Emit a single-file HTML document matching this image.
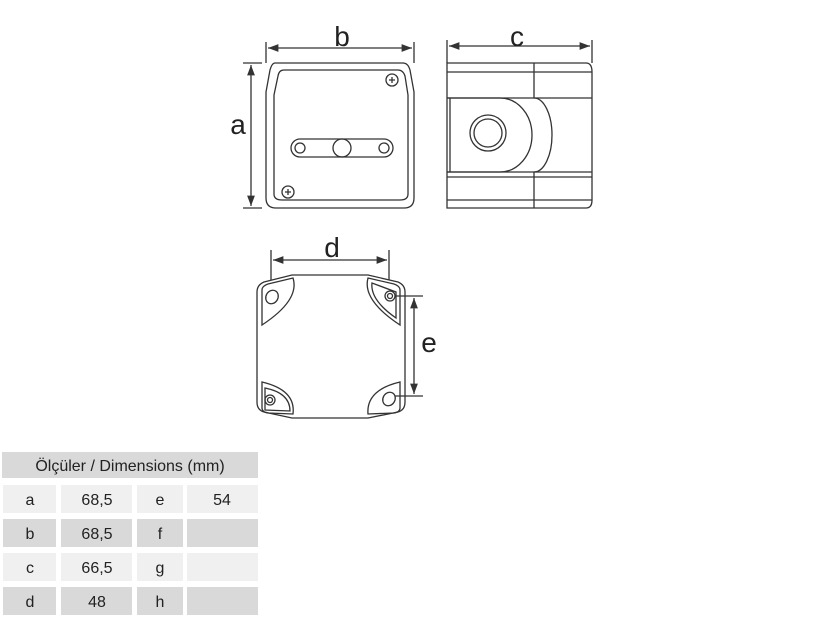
<!DOCTYPE html>
<html><head><meta charset="utf-8"><style>
body{margin:0;background:#fff;width:825px;height:625px;overflow:hidden;font-family:"Liberation Sans",sans-serif}
</style></head><body>
<svg width="825" height="625" style="position:absolute;left:0;top:0" fill="none" stroke="#333" stroke-width="1.3">
<defs><marker id="ar" markerWidth="8" markerHeight="6" refX="8" refY="3" orient="auto-start-reverse"><path d="M0,0 L8,3 L0,6 z" fill="#333" stroke="none"/></marker></defs>
<!-- front view -->
<path d="M275,63 L403,63 Q408,63 410,70 L414,92 L414,198 Q414,208 404,208 L276,208 Q266,208 266,198 L266,92 L270,70 Q272,63 275,63 Z"/>
<path d="M284,70 L398,70 Q403,70 405,76 L408,95 L408,194 Q408,200 400,200 L282,200 Q274,200 274,194 L274,95 L278,76 Q279,70 284,70 Z"/>
<circle cx="392" cy="80" r="6"/><path d="M389,80h6M392,77v6"/>
<circle cx="288" cy="192" r="6"/><path d="M285,192h6M288,189v6"/>
<rect x="291" y="139" width="102" height="18" rx="9"/>
<circle cx="300" cy="148" r="5"/><circle cx="384" cy="148" r="5"/><circle cx="342" cy="148" r="9"/>
<line x1="268" y1="48" x2="412" y2="48" marker-start="url(#ar)" marker-end="url(#ar)"/>
<path d="M266,42v21M414,42v21"/>
<line x1="251" y1="65" x2="251" y2="206" marker-start="url(#ar)" marker-end="url(#ar)"/>
<path d="M243,63h19M243,208h19"/>
<!-- side view -->
<path d="M447,63 L586,63 Q592,63 592,72 L592,200 Q592,208 586,208 L447,208 Z"/>
<path d="M534,63v35M534,172v36M447,72h145M447,98h53M534,98h58M447,172h53M534,172h58M447,177h145M447,200h145M450,98v74"/>
<path d="M447,98 L500,98 A32,37 0 0 1 500,172 L447,172"/>
<path d="M500,98 L534,98 A18,37 0 0 1 534,172 L500,172"/>
<circle cx="488" cy="133" r="18"/><circle cx="488" cy="133" r="14"/>
<line x1="449" y1="46" x2="590" y2="46" marker-start="url(#ar)" marker-end="url(#ar)"/>
<path d="M447,40v23M592,40v23"/>
<!-- bottom view -->
<path d="M292,275 L368,275 L398,282 Q405,285 405,292 L405,402 Q405,410 398,412 L368,418 L292,418 L264,412 Q257,410 257,402 L257,292 Q257,285 264,282 Z"/>
<path d="M262,325 L262,290 Q262,286 268,284 L293,278 Q300,300 262,325 Z"/>
<ellipse cx="272" cy="297" rx="6" ry="7" transform="rotate(30 272 297)"/>
<path d="M400,325 L400,290 Q400,286 394,284 L368,278 Q362,300 400,325 Z"/>
<path d="M396,318 L396,292 L372,283 Q370,300 396,318 Z"/>
<circle cx="390" cy="296" r="5"/><circle cx="390" cy="296" r="2.5"/>
<path d="M262,382 L262,408 Q262,412 268,413 L293,414 Q296,390 262,382 Z"/>
<path d="M265,388 L265,410 L290,411 Q290,393 265,388 Z"/>
<circle cx="270" cy="400" r="5"/><circle cx="270" cy="400" r="2.5"/>
<path d="M400,382 L400,408 Q400,412 394,413 L368,414 Q366,390 400,382 Z"/>
<ellipse cx="389" cy="399" rx="6" ry="7" transform="rotate(30 389 399)"/>
<line x1="273" y1="260" x2="387" y2="260" marker-start="url(#ar)" marker-end="url(#ar)"/>
<path d="M271,250v30M389,250v30"/>
<line x1="414" y1="298" x2="414" y2="394" marker-start="url(#ar)" marker-end="url(#ar)"/>
<path d="M395,296h28M395,396h28"/>
<!-- table -->
<g stroke="none">
<rect x="2" y="452" width="256" height="26" fill="#d9d9d9"/>
<rect x="3" y="485" width="53" height="28" fill="#f0f0f0"/><rect x="61" y="485" width="71" height="28" fill="#f0f0f0"/><rect x="137" y="485" width="46" height="28" fill="#f0f0f0"/><rect x="187" y="485" width="71" height="28" fill="#f0f0f0"/>
<rect x="3" y="519" width="53" height="28" fill="#d9d9d9"/><rect x="61" y="519" width="71" height="28" fill="#d9d9d9"/><rect x="137" y="519" width="46" height="28" fill="#d9d9d9"/><rect x="187" y="519" width="71" height="28" fill="#d9d9d9"/>
<rect x="3" y="553" width="53" height="28" fill="#f0f0f0"/><rect x="61" y="553" width="71" height="28" fill="#f0f0f0"/><rect x="137" y="553" width="46" height="28" fill="#f0f0f0"/><rect x="187" y="553" width="71" height="28" fill="#f0f0f0"/>
<rect x="3" y="587" width="53" height="28" fill="#d9d9d9"/><rect x="61" y="587" width="71" height="28" fill="#d9d9d9"/><rect x="137" y="587" width="46" height="28" fill="#d9d9d9"/><rect x="187" y="587" width="71" height="28" fill="#d9d9d9"/>
</g>
<g fill="#222" stroke="none" font-family="Liberation Sans, sans-serif" font-size="28" text-anchor="middle">
<text x="342" y="46">b</text><text x="238" y="134">a</text><text x="517" y="46">c</text><text x="332" y="257">d</text><text x="429" y="352">e</text>
</g>
<g fill="#222" stroke="none" font-family="Liberation Sans, sans-serif" font-size="16" text-anchor="middle">
<text x="130" y="471">Ölçüler / Dimensions (mm)</text>
<text x="30" y="505">a</text><text x="97" y="505">68,5</text><text x="160" y="505">e</text><text x="222" y="505">54</text>
<text x="30" y="539">b</text><text x="97" y="539">68,5</text><text x="160" y="539">f</text>
<text x="30" y="573">c</text><text x="97" y="573">66,5</text><text x="160" y="573">g</text>
<text x="30" y="607">d</text><text x="97" y="607">48</text><text x="160" y="607">h</text>
</g>
</svg>
</body></html>
